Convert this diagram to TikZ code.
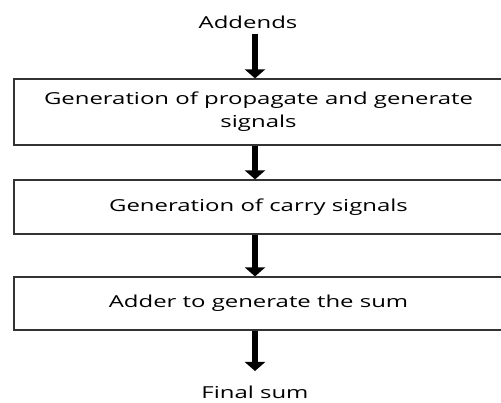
\documentclass[tikz,border=0pt]{standalone}
\usepackage{fontspec}
\setmainfont{Open Sans}[FakeStretch=1.45]
\usetikzlibrary{arrows.meta}
\begin{document}
\begin{tikzpicture}[x=1pt,y=-1pt,
  stage/.style={draw=black!80,line width=1.2pt,minimum width=489pt,
    align=center,inner sep=0pt,font=\fontsize{16.5}{23}\selectfont},
  label/.style={inner sep=0pt,font=\fontsize{16.5}{20}\selectfont},
  flow/.style={line width=6.5pt,-{Triangle[width=20pt,length=9pt]}}]
\useasboundingbox (0,0) rectangle (501,403);
\clip (0,0) rectangle (501,403);
\node[label] (in) at (248,22) {Addends};
\node[stage,minimum height=66pt] (gp) at (258.5,112) {Generation of propagate and generate\\signals};
\node[stage,minimum height=54pt] (cs) at (258.5,207) {Generation of carry signals};
\node[stage,minimum height=53pt] (sum) at (258.5,303.5) {Adder to generate the sum};
\node[label] (out) at (255,392) {Final sum};
\coordinate (a1) at (255,34);
\coordinate (a4) at (255,371);
\draw[flow] (a1) -- (a1 |- gp.north);
\draw[flow] (gp.south -| a1) -- (a1 |- cs.north);
\draw[flow] (cs.south -| a1) -- (a1 |- sum.north);
\draw[flow] (sum.south -| a1) -- (a4);
\end{tikzpicture}
\end{document}
